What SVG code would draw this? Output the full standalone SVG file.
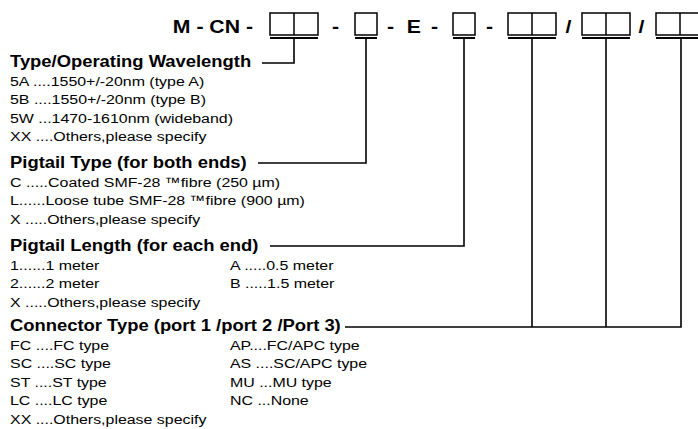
<svg xmlns="http://www.w3.org/2000/svg" width="698" height="429" viewBox="0 0 698 429">
<style>
text{font-family:"Liberation Sans",Arial,sans-serif;fill:#000}
.t{font-size:18px;font-weight:bold}
.h{font-size:15.6px;font-weight:bold}
.b{font-size:13.5px}
.m{text-anchor:middle}
.box{fill:none;stroke:#000;stroke-width:1.5}
.ul{stroke:#000;stroke-width:2}
.ln{fill:none;stroke:#000;stroke-width:1.6}
</style>
<rect width="698" height="429" fill="#fff"/>
<g id="code">
<g transform="scale(1.18 1)">
<text class="t" x="214.4" y="33" text-anchor="end">M - CN -</text>
<text class="t m" x="284.3" y="33">-</text>
<text class="t m" x="330.9" y="33">-</text>
<text class="t m" x="350.8" y="33">E</text>
<text class="t m" x="368.2" y="33">-</text>
<text class="t m" x="414.8" y="33">-</text>
<text class="t m" x="481.8" y="33">/</text>
<text class="t m" x="543.6" y="33">/</text>
</g>
<g id="box-wavelength"><rect class="box" x="270" y="13" width="48" height="22"/><line class="box" x1="294" y1="13" x2="294" y2="35"/><line class="ul" x1="270" y1="38" x2="318" y2="38"/></g>
<g id="box-pigtail-type"><rect class="box" x="355" y="13" width="22" height="22"/><line class="ul" x1="355" y1="38" x2="377" y2="38"/></g>
<g id="box-pigtail-length"><rect class="box" x="453" y="13" width="22" height="22"/><line class="ul" x1="453" y1="38" x2="475" y2="38"/></g>
<g id="box-port1"><rect class="box" x="508" y="13" width="48" height="22"/><line class="box" x1="532" y1="13" x2="532" y2="35"/><line class="ul" x1="508" y1="38" x2="556" y2="38"/></g>
<g id="box-port2"><rect class="box" x="582" y="13" width="48" height="22"/><line class="box" x1="606" y1="13" x2="606" y2="35"/><line class="ul" x1="582" y1="38" x2="630" y2="38"/></g>
<g id="box-port3"><rect class="box" x="656" y="13" width="48" height="22"/><line class="box" x1="680" y1="13" x2="680" y2="35"/><line class="ul" x1="656" y1="38" x2="704" y2="38"/></g>
</g>
<g id="connectors">
<polyline class="ln" points="294,39 294,63 262,63"/>
<polyline class="ln" points="366,39 366,163 258,163"/>
<polyline class="ln" points="464,39 464,246 270,246"/>
<polyline class="ln" points="681,39 681,327 345,327"/>
<line class="ln" x1="532" y1="39" x2="532" y2="327"/>
<line class="ln" x1="606" y1="39" x2="606" y2="327"/>
</g>
<g id="wavelength" transform="scale(1.18 1)">
<text class="h" x="8.5" y="67">Type/Operating Wavelength</text>
<text class="b" x="8.5" y="86">5A ....1550+/-20nm (type A)</text>
<text class="b" x="8.5" y="104.5">5B ....1550+/-20nm (type B)</text>
<text class="b" x="8.5" y="123">5W ...1470-1610nm (wideband)</text>
<text class="b" x="8.5" y="141.5">XX ....Others,please specify</text>
</g>
<g id="pigtail-type" transform="scale(1.18 1)">
<text class="h" x="8.5" y="168">Pigtail Type (for both ends)</text>
<text class="b" x="8.5" y="187">C .....Coated SMF-28 ™fibre (250 µm)</text>
<text class="b" x="8.5" y="205.5">L......Loose tube SMF-28 ™fibre (900 µm)</text>
<text class="b" x="8.5" y="224">X .....Others,please specify</text>
</g>
<g id="pigtail-length" transform="scale(1.18 1)">
<text class="h" x="8.5" y="251">Pigtail Length (for each end)</text>
<text class="b" x="8.5" y="270">1......1 meter</text>
<text class="b" x="194.9" y="270">A .....0.5 meter</text>
<text class="b" x="8.5" y="288.5">2......2 meter</text>
<text class="b" x="194.9" y="288.5">B .....1.5 meter</text>
<text class="b" x="8.5" y="307">X .....Others,please specify</text>
</g>
<g id="connector-type" transform="scale(1.18 1)">
<text class="h" x="8.5" y="331">Connector Type (port 1 /port 2 /Port 3)</text>
<text class="b" x="8.5" y="350">FC ....FC type</text>
<text class="b" x="194.9" y="350">AP....FC/APC type</text>
<text class="b" x="8.5" y="368.5">SC ....SC type</text>
<text class="b" x="194.9" y="368.5">AS ....SC/APC type</text>
<text class="b" x="8.5" y="387">ST ....ST type</text>
<text class="b" x="194.9" y="387">MU ...MU type</text>
<text class="b" x="8.5" y="405.5">LC ....LC type</text>
<text class="b" x="194.9" y="405.5">NC ...None</text>
<text class="b" x="8.5" y="424">XX ....Others,please specify</text>
</g>
</svg>
